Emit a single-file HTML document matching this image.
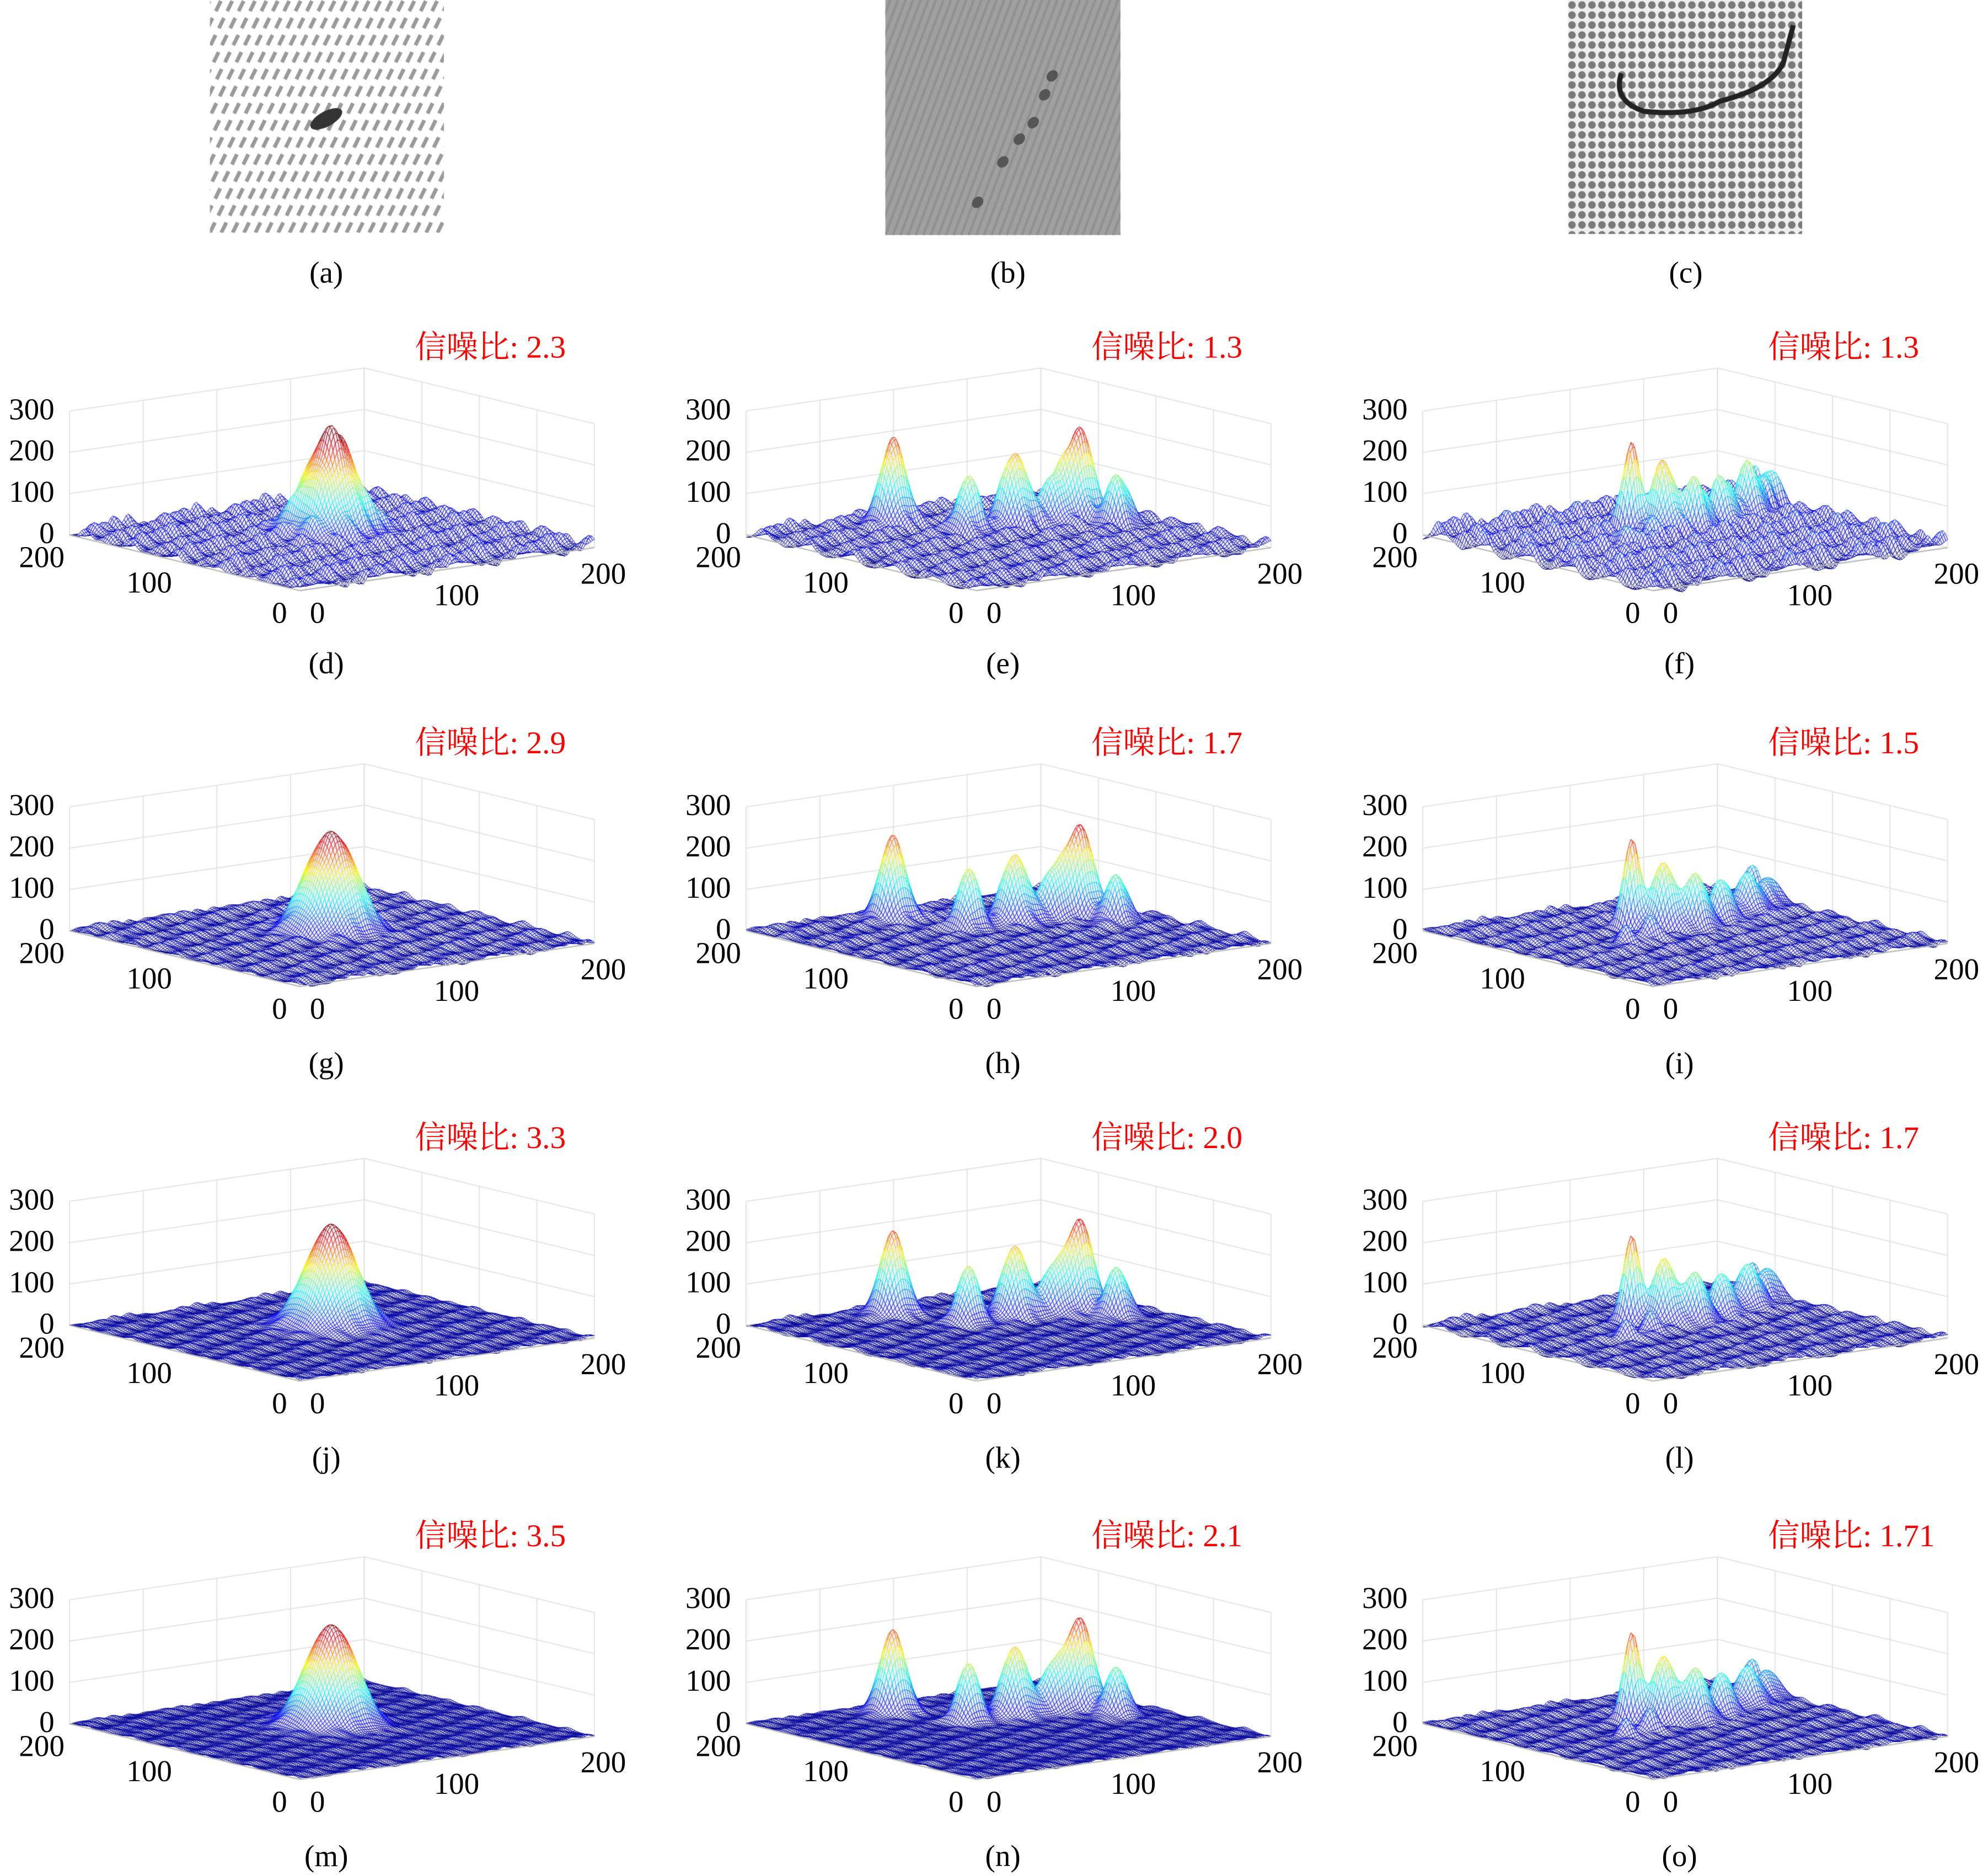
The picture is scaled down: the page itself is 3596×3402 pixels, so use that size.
<!DOCTYPE html>
<html><head><meta charset="utf-8"><style>
html,body{margin:0;padding:0;background:#fff}
#wrap{position:relative;width:3596px;height:3402px;overflow:hidden}
canvas,svg{position:absolute;left:0;top:0}
</style></head><body>
<div id="wrap">
<canvas id="cv" width="3596" height="3402"></canvas>
<svg id="sv" width="3596" height="3402" viewBox="0 0 1568 1483.4"></svg>
</div>
<script>
// ---- data ----
const panelLetters = ['d','e','f','g','h','i','j','k','l','m','n','o'];
const snrValues = ['2.3','1.3','1.3','2.9','1.7','1.5','3.3','2.0','1.7','3.5','2.1','1.71'];
const bgAmp = [26,20,34,12,12,14,8,8,12,6,6,10];
const peakU_A = [106,112];
const peakV_A = [112,100];
const peakH_A = [215,60];
const peakS_A = [13,10];
const peakU_B = [80,96,127,150,166,170];
const peakV_B = [175,130,129,125,122,96];
const peakH_B = [200,140,170,110,215,120];
const peakS_B = [7,6,7,7,7,6];
const peakU_C = [91,103,118,140,168,190,198,60,80];
const peakV_C = [135,122,113,119,132,145,168,100,105];
const peakH_C = [225,165,130,110,100,75,70,50,60];
const peakS_C = [4.5,6,6,6,7,6,5,4,4];
const heightScale = [1.0,1.0,1.0,1.0,1.0,0.95,1.0,1.0,0.95,1.0,1.0,0.95];
const zTicks = [0,100,200,300];
const zTickLabels = ['0','100','200','300'];

const S = 3596/1568;
const cv = document.getElementById('cv');
const ctx = cv.getContext('2d');
ctx.setTransform(S,0,0,S,0,0);
ctx.fillStyle='#fff';ctx.fillRect(0,0,1568,1484);

const colOff=[0,535,1070], rowOff=[0,313,625,940];
const FRONT=[237,467], LEFT=[55,423], RIGHT=[470,433], ZPX=98/300;
function proj(ox,oy,u,v,z){
  return [ox+FRONT[0]+u/200*(RIGHT[0]-FRONT[0])+v/200*(LEFT[0]-FRONT[0]),
          oy+FRONT[1]+u/200*(RIGHT[1]-FRONT[1])+v/200*(LEFT[1]-FRONT[1])-z*ZPX];
}
function jet(t){t=Math.max(0,Math.min(1,t));
  const c=x=>Math.round(255*Math.max(0,Math.min(1,x)));
  return [c(1.5-Math.abs(4*t-3)),c(1.5-Math.abs(4*t-2)),c(1.5-Math.abs(4*t-1))];}

function drawImages(){
  ctx.save();ctx.beginPath();ctx.rect(166,0,185,184);ctx.clip();
  ctx.fillStyle='#fff';ctx.fillRect(166,0,185,184);
  ctx.strokeStyle='#9a9a9a';ctx.lineWidth=3;ctx.setLineDash([9,6]);
  for(let k=-20;k<30;k++){ctx.beginPath();ctx.moveTo(166+k*9,184);ctx.lineTo(166+k*9+90,0);ctx.stroke();}
  ctx.setLineDash([]);
  ctx.fillStyle='#333';ctx.beginPath();ctx.ellipse(258,94,14,6,-0.5,0,7);ctx.fill();
  ctx.restore();
  ctx.save();ctx.beginPath();ctx.rect(700,0,186,186);ctx.clip();
  ctx.fillStyle='#a0a0a0';ctx.fillRect(700,0,186,186);
  ctx.strokeStyle='rgba(130,130,130,0.5)';ctx.lineWidth=2;
  for(let k=-20;k<40;k++){ctx.beginPath();ctx.moveTo(700+k*6,186);ctx.lineTo(700+k*6+70,0);ctx.stroke();}
  ctx.fillStyle='#555';
  [[832,60],[826,75],[817,97],[806,110],[793,128],[773,160]].forEach(p=>{ctx.beginPath();ctx.ellipse(p[0],p[1],5,4,-0.8,0,7);ctx.fill();});
  ctx.restore();
  ctx.save();ctx.beginPath();ctx.rect(1240,0,185,185);ctx.clip();
  ctx.fillStyle='#eee';ctx.fillRect(1240,0,185,185);
  ctx.fillStyle='#7a7a7a';
  for(let i=0;i<24;i++)for(let j=0;j<24;j++){ctx.beginPath();ctx.arc(1243+i*7.9,4+j*7.9,3,0,7);ctx.fill();}
  ctx.strokeStyle='#222';ctx.lineWidth=4;ctx.beginPath();
  ctx.moveTo(1282,58);ctx.quadraticCurveTo(1275,80,1300,88);ctx.quadraticCurveTo(1340,92,1360,80);
  ctx.quadraticCurveTo(1400,70,1410,50);ctx.lineTo(1418,20);ctx.stroke();
  ctx.restore();
}
drawImages();

function surfaceZ(p,u,v){
  const c=p%3;
  let U,V,H,Sg;
  if(c===0){U=peakU_A;V=peakV_A;H=peakH_A;Sg=peakS_A;}
  else if(c===1){U=peakU_B;V=peakV_B;H=peakH_B;Sg=peakS_B;}
  else {U=peakU_C;V=peakV_C;H=peakH_C;Sg=peakS_C;}
  let z=0;
  for(let k=0;k<U.length;k++){const d2=(u-U[k])**2+(v-V[k])**2;z+=H[k]*heightScale[p]*Math.exp(-d2/(2*Sg[k]*Sg[k]));}
  const a=bgAmp[p];
  z+=a*(0.5+0.5*Math.sin(u*0.55+v*0.18))*(0.6+0.4*Math.sin(v*0.31-u*0.12))
   +a*0.4*Math.sin(u*0.13+p)*Math.cos(v*0.17);
  return z;
}

const svg=document.getElementById('sv');
const NS='http://www.w3.org/2000/svg';
function txt(x,y,s,size,anchor,fill,name,fam){
  const t=document.createElementNS(NS,'text');
  t.setAttribute('x',x);t.setAttribute('y',y);t.setAttribute('font-size',size);
  t.setAttribute('text-anchor',anchor);t.setAttribute('fill',fill||'#000');
  t.setAttribute('font-family',fam||'"Liberation Serif", serif');
  t.setAttribute('dominant-baseline','middle');
  t.textContent=s;
  
  
  svg.appendChild(t);
}
txt(258,218,'(a)',24,'middle','#000','label-a');
txt(797,218,'(b)',24,'middle','#000','label-b');
txt(1333,218,'(c)',24,'middle','#000','label-c');

function drawPanel(p){
  const ox=colOff[p%3], oy=rowOff[Math.floor(p/3)];
  ctx.strokeStyle='#e2e2e2';ctx.lineWidth=0.8;
  const line=(a,b)=>{ctx.beginPath();ctx.moveTo(a[0],a[1]);ctx.lineTo(b[0],b[1]);ctx.stroke();};
  zTicks.forEach(z=>{line(proj(ox,oy,0,200,z),proj(ox,oy,200,200,z));line(proj(ox,oy,200,200,z),proj(ox,oy,200,0,z));});
  for(let g=0;g<=200;g+=50){line(proj(ox,oy,g,200,0),proj(ox,oy,g,200,300));line(proj(ox,oy,200,g,0),proj(ox,oy,200,g,300));}
  line(proj(ox,oy,0,200,0),proj(ox,oy,0,200,300));
  const N=130, st=200/N;
  const Z=[];
  for(let i=0;i<=N;i++){Z.push([]);for(let j=0;j<=N;j++)Z[i].push(surfaceZ(p,i*st,j*st));}
  ctx.lineWidth=0.4;
  for(let s=2*N-2;s>=0;s--){
    for(let i=Math.max(0,s-N+1);i<=Math.min(N-1,s);i++){
      const j=s-i;
      const z=(Z[i][j]+Z[i+1][j]+Z[i][j+1]+Z[i+1][j+1])/4;
      const a=proj(ox,oy,i*st,j*st,Z[i][j]),b=proj(ox,oy,(i+1)*st,j*st,Z[i+1][j]),
            c=proj(ox,oy,(i+1)*st,(j+1)*st,Z[i+1][j+1]),d=proj(ox,oy,i*st,(j+1)*st,Z[i][j+1]);
      const col=jet((z+5)/250);
      ctx.beginPath();ctx.moveTo(a[0],a[1]);ctx.lineTo(b[0],b[1]);ctx.lineTo(c[0],c[1]);ctx.lineTo(d[0],d[1]);ctx.closePath();
      ctx.fillStyle='#eeeef6';ctx.fill();
      ctx.strokeStyle='rgb('+col[0]+','+col[1]+','+col[2]+')';ctx.stroke();
    }
  }
  ctx.strokeStyle='#b8b8b8';ctx.lineWidth=1;
  line(proj(ox,oy,0,200,0),proj(ox,oy,0,0,0));line(proj(ox,oy,0,0,0),proj(ox,oy,200,0,0));
  zTicks.forEach((z,k)=>{const q=proj(ox,oy,0,200,z);txt(q[0]-12,q[1]+1,zTickLabels[k],24,'end','#000','z-tick-label');});
  txt(ox+33,oy+443,'200',24,'middle','#000','y-tick-label');
  txt(ox+118,oy+463,'100',24,'middle','#000','y-tick-label');
  txt(ox+221,oy+487,'0',24,'middle','#000','y-tick-label');
  txt(ox+251,oy+487,'0',24,'middle','#000','x-tick-label');
  txt(ox+361,oy+473,'100',24,'middle','#000','x-tick-label');
  txt(ox+477,oy+456,'200',24,'middle','#000','x-tick-label');
  txt(ox+328,oy+277,'信噪比: '+snrValues[p],25,'start','#ff0000','snr-title','"Liberation Serif","Noto Serif CJK SC",serif');
  txt(ox+258,oy+527+[0,3,3,3][Math.floor(p/3)],'('+panelLetters[p]+')',24,'middle','#000','panel-label-'+panelLetters[p]);
}
for(let p=0;p<12;p++)drawPanel(p);
</script>
</body></html>
